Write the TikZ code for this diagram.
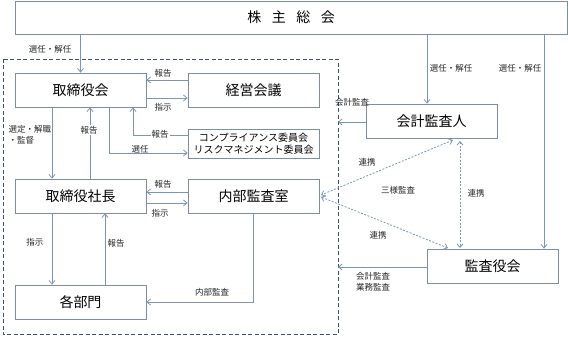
\documentclass[tikz,border=0pt]{standalone}
\usepackage{fontspec}
\setmainfont{Noto Sans CJK JP}
\usetikzlibrary{arrows.meta}
\definecolor{boxc}{HTML}{7F8CA0}
\definecolor{arrc}{HTML}{7D94BA}
\definecolor{framec}{HTML}{3E5070}
\tikzset{
  box/.style={draw=boxc, line width=0.8pt, fill=white, minimum width=131pt, minimum height=34pt, inner sep=0pt, font=\fontsize{14}{16}\selectfont},
  arr/.style={draw=arrc, line width=0.8pt, -{Straight Barb[length=3.5pt,width=6pt]}},
  dotarr/.style={draw=arrc, line width=0.8pt, dash pattern=on 2pt off 1.5pt, {Straight Barb[length=3.5pt,width=6pt]}-{Straight Barb[length=3.5pt,width=6pt]}},
  lbl/.style={font=\fontsize{8.5}{10.5}\selectfont, inner sep=1pt, text=black!85},
  wlbl/.style={lbl, fill=white}
}
\begin{document}
\begin{tikzpicture}[x=1pt,y=-1pt]
\useasboundingbox (0,0) rectangle (568,345);
% dashed frame
\draw[framec, line width=0.9pt, dash pattern=on 4pt off 2.5pt] (3,59) rectangle (338,334);
% boxes
\node[box, minimum width=552pt, minimum height=33pt] (sh) at (291,17.5) {株\hspace{0.75em}主\hspace{0.75em}総\hspace{0.75em}会};
\node[box] (bod) at (80.5,90) {取締役会};
\node[box] (keiei) at (253.5,90) {経営会議};
\node[box, minimum height=29pt, font=\fontsize{10}{12}\selectfont, align=center] (comp) at (253.5,143.5) {コンプライアンス委員会\\リスクマネジメント委員会};
\node[box] (audit) at (431.5,121) {会計監査人};
\node[box] (pres) at (80.5,196) {取締役社長};
\node[box] (naibu) at (253.5,196) {内部監査室};
\node[box] (bumon) at (80.5,302) {各部門};
\node[box] (kansa) at (492.5,266) {監査役会};
% helper coordinates
\coordinate (x427) at (427,0);
\coordinate (x544) at (544,0);
\coordinate (y80) at (0,80);
\coordinate (y98) at (0,98);
\coordinate (y135) at (0,135);
\coordinate (y153) at (0,153);
\coordinate (x133) at (133,0);
\coordinate (x109) at (109,0);
\coordinate (x52) at (52,0);
\coordinate (x90) at (90,0);
\coordinate (x105) at (105,0);
\coordinate (y192) at (0,192);
\coordinate (y203) at (0,203);
\coordinate (x253) at (253,0);
\coordinate (y302) at (0,302);
\coordinate (fa) at (338,122);
\coordinate (fk) at (338,267);
% shareholders
\draw[arr] (sh.south -| bod.north) -- (bod.north);
\draw[arr] (sh.south -| x427) -- (audit.north -| x427);
\draw[arr] (sh.south -| x544) -- (kansa.north -| x544);
\node[lbl] at (50,49) {選任・解任};
\node[lbl] at (451,68) {選任・解任};
\node[lbl] at (520,68) {選任・解任};
% board <-> management meeting
\draw[arr] (keiei.west |- y80) -- (bod.east |- y80);
\draw[arr] (bod.east |- y98) -- (keiei.west |- y98);
\node[lbl] at (163,73) {報告};
\node[lbl] at (163,107) {指示};
% board <-> committees
\draw[arr] (comp.west |- y135) -- (x133 |- y135) -- (bod.south -| x133);
\draw[arr] (bod.south -| x109) -- (x109 |- y153) -- (comp.west |- y153);
\node[wlbl] at (160,134) {報告};
\node[lbl] at (140,149) {選任};
% board <-> president
\draw[arr] (bod.south -| x52) -- (pres.north -| x52);
\draw[arr] (pres.north -| x90) -- (bod.south -| x90);
\node[lbl, align=left] at (30,135) {選定・解職\\・監督};
\node[wlbl] at (89,130) {報告};
% president <-> internal audit
\draw[arr] (naibu.west |- y192) -- (pres.east |- y192);
\draw[arr] (pres.east |- y203) -- (naibu.west |- y203);
\node[lbl] at (163,184) {報告};
\node[lbl] at (160,213) {指示};
% president <-> departments
\draw[arr] (pres.south -| x52) -- (bumon.north -| x52);
\draw[arr] (bumon.north -| x105) -- (pres.south -| x105);
\node[lbl] at (35,242) {指示};
\node[lbl] at (116,243) {報告};
% internal audit -> departments
\draw[arr] (naibu.south -| x253) -- (x253 |- y302) -- (bumon.east);
\node[lbl] at (212,292) {内部監査};
% auditors -> frame
\draw[arr] (audit.west |- fa) -- (fa);
\node[lbl] at (352,102) {会計監査};
\draw[arr] (kansa.west |- fk) -- (fk);
\node[lbl, align=left] at (373,282) {会計監査\\業務監査};
% three-way audit
\coordinate (a1) at (453,140);
\coordinate (a2) at (460,141);
\coordinate (k1) at (448,248);
\coordinate (k2) at (460,248);
\coordinate (n1) at (321,195);
\coordinate (n2) at (321,197);
\draw[dotarr] (a1) -- (n1);
\draw[dotarr] (n2) -- (k1);
\draw[dotarr] (a2) -- (k2);
\node[lbl] at (367,162) {連携};
\node[lbl] at (398,190) {三様監査};
\node[lbl] at (476,193) {連携};
\node[lbl] at (378,235) {連携};
\end{tikzpicture}
\end{document}
